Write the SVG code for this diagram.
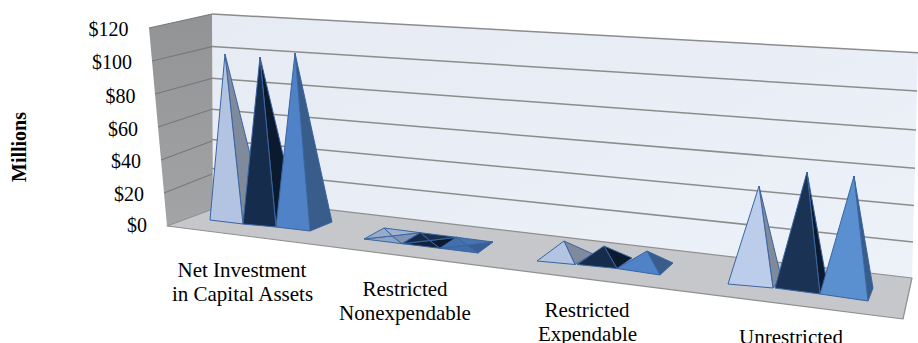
<svg xmlns="http://www.w3.org/2000/svg" width="918" height="343" viewBox="0 0 918 343">
<defs>
<style>
.lbl{font-family:"Liberation Serif","Times New Roman",serif;font-size:20px;fill:#000}
.cat{font-family:"Liberation Serif","Times New Roman",serif;font-size:21px;fill:#000;text-anchor:middle}
.grid{stroke:#8c8c8c;stroke-width:1.5;fill:none}
.sgrid{stroke:#78797b;stroke-width:1.2;fill:none}
.pe{stroke:#3a64a0;stroke-width:1;stroke-linejoin:round}
.lf{fill:#b3c4e3}.ls{fill:#7f8a9c}
.nf{fill:#162c4c}.ns{fill:#0c1a2f}
.mf{fill:#4f82c6}.ms{fill:#385d8a}
</style>
<linearGradient id="wallG" x1="0" y1="0" x2="1" y2="1">
<stop offset="0" stop-color="#e6ebf4"/><stop offset="1" stop-color="#edf1f8"/>
</linearGradient>
<linearGradient id="sideG" x1="0" y1="0" x2="0" y2="1">
<stop offset="0" stop-color="#929395"/><stop offset="1" stop-color="#a3a4a6"/>
</linearGradient>
</defs>
<rect width="918" height="343" fill="#fff"/>

<g id="walls">
<polygon points="212,14 918,53 912,278 213,196 213,209" fill="url(#wallG)"/>
<polygon points="149,28 212,14 213,209 167,226" fill="url(#sideG)"/>
<polygon points="167,226 213,209 213,196 912,278 903,319" fill="#c5c7ca" stroke="#8f8f8f" stroke-width="1.2" stroke-linejoin="round"/>
</g>

<g id="gridlines">
<line class="grid" x1="212" y1="14" x2="918" y2="52.7"/>
<line class="grid" x1="212" y1="46.6" x2="917" y2="91"/>
<line class="grid" x1="212" y1="78.3" x2="916" y2="130"/>
<line class="grid" x1="212" y1="109.3" x2="915" y2="168.3"/>
<line class="grid" x1="212" y1="139.5" x2="914" y2="205.5"/>
<line class="grid" x1="212" y1="168.5" x2="913" y2="242"/>
<line class="sgrid" x1="149" y1="28" x2="212" y2="14"/>
<line class="sgrid" x1="152" y1="61" x2="212" y2="46.6"/>
<line class="sgrid" x1="155" y1="94" x2="212" y2="78.3"/>
<line class="sgrid" x1="158" y1="127" x2="212" y2="109.3"/>
<line class="sgrid" x1="161" y1="160" x2="212" y2="141"/>
<line class="sgrid" x1="164" y1="193" x2="212" y2="174"/>
</g>

<g id="axis-labels">
<text class="lbl" x="128.5" y="35.5" text-anchor="end">$120</text>
<text class="lbl" x="132" y="69.3" text-anchor="end">$100</text>
<text class="lbl" x="135.5" y="102.5" text-anchor="end">$80</text>
<text class="lbl" x="138" y="135.5" text-anchor="end">$60</text>
<text class="lbl" x="141" y="168" text-anchor="end">$40</text>
<text class="lbl" x="144" y="200.5" text-anchor="end">$20</text>
<text class="lbl" x="147" y="232" text-anchor="end">$0</text>
<text class="lbl" font-weight="bold" transform="translate(26,147) rotate(-90)" text-anchor="middle">Millions</text>
</g>

<g id="net-investment">
<polygon class="pe ls" points="225,54 243,224 265,214"/>
<polygon class="pe lf" points="225,54 210,220 243,224"/>
<polygon class="pe ns" points="260,57 276,227 298,218"/>
<polygon class="pe nf" points="260,57 243,224 276,227"/>
<polygon class="pe ms" points="295,53 310,231 332,222"/>
<polygon class="pe mf" points="295,53 276,227 310,231"/>
</g>

<g id="restricted-nonexpendable">
<polygon class="pe" fill="#8ea4c6" points="364,239 402,243.7 392.2,235.9"/>
<polygon class="pe" fill="#7f94b6" points="402,243.7 420.3,232.7 392.2,235.9"/>
<polygon class="pe" fill="#9fb2d1" points="420.3,232.7 384,228 392.2,235.9"/>
<polygon class="pe" fill="#97abcc" points="384,228 364,239 392.2,235.9"/>
<polygon class="pe" fill="#10223d" points="402,243.7 440,248.3 429.7,240.5"/>
<polygon class="pe" fill="#0b1a30" points="440,248.3 456.7,237.3 429.7,240.5"/>
<polygon class="pe" fill="#17304f" points="456.7,237.3 420.3,232.7 429.7,240.5"/>
<polygon class="pe" fill="#142a48" points="420.3,232.7 402,243.7 429.7,240.5"/>
<polygon class="pe" fill="#3f6dab" points="440,248.3 478,253 466.9,245.1"/>
<polygon class="pe" fill="#375f96" points="478,253 493,242 466.9,245.1"/>
<polygon class="pe" fill="#4775b2" points="493,242 456.7,237.3 466.9,245.1"/>
<polygon class="pe" fill="#4470ad" points="456.7,237.3 440,248.3 466.9,245.1"/>
</g>

<g id="restricted-expendable">
<polygon class="pe ls" points="564,241 575,264.5 593,254"/>
<polygon class="pe lf" points="564,241 537,261 575,264.5"/>
<polygon class="pe ns" points="604,246 617,268.5 632,258"/>
<polygon class="pe nf" points="604,246 577,264.5 617,268.5"/>
<polygon class="pe ms" points="647,251 660,275 673,263"/>
<polygon class="pe mf" points="647,251 617,268.5 660,275"/>
</g>

<g id="unrestricted">
<polygon class="pe ls" points="759,186 773,288 781,277"/>
<polygon class="pe" fill="#bccdeb" points="759,186 728,284 773,288"/>
<polygon class="pe ns" points="807,172 820,294 827,283"/>
<polygon class="pe" fill="#1a3253" points="807,172 775,288 820,294"/>
<polygon class="pe ms" points="854,176 868,301 873,288"/>
<polygon class="pe" fill="#5a8fd0" points="854,176 820,294 868,301"/>
</g>

<g id="category-labels">
<text class="cat" x="242" y="277">Net Investment</text>
<text class="cat" x="242.5" y="301">in Capital Assets</text>
<text class="cat" x="405" y="296">Restricted</text>
<text class="cat" x="405" y="320">Nonexpendable</text>
<text class="cat" x="587" y="317">Restricted</text>
<text class="cat" x="587.5" y="341">Expendable</text>
<text class="cat" x="791" y="343.5">Unrestricted</text>
</g>
</svg>
